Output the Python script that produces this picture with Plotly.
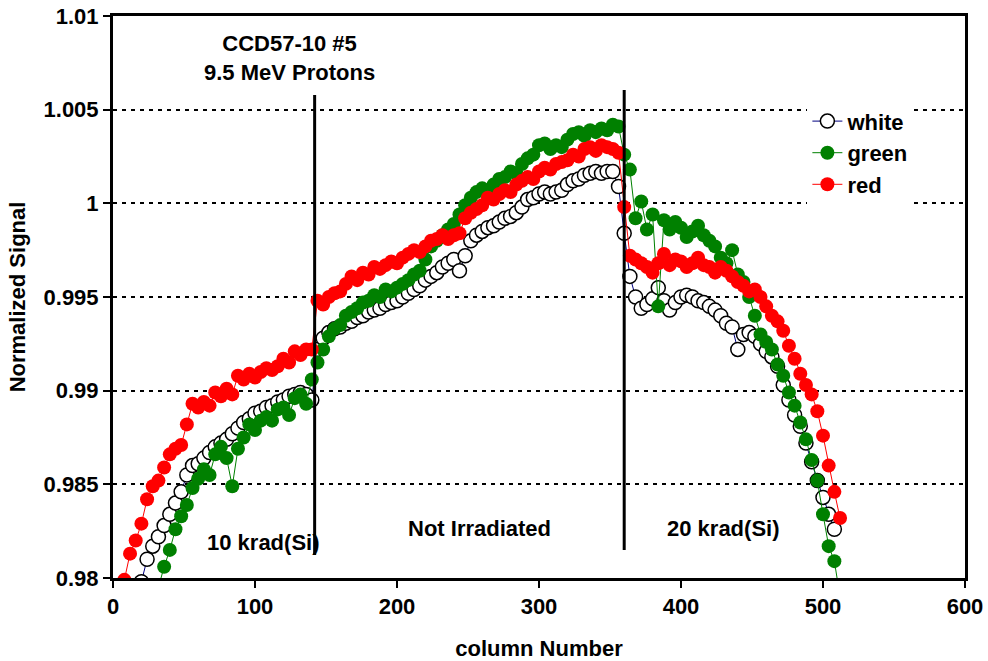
import plotly.graph_objects as go

columns = list(range(8, 513, 4))

white = [None, None, None,
         0.9798, 0.9810, 0.9817, 0.9822, 0.9828, 0.9834, 0.9840, 0.9846, 0.9855, 0.9860,
         0.9861, 0.9864, 0.9867, 0.9870, 0.9872, 0.9874, 0.9877, 0.9880, 0.9883, 0.9885,
         0.9888, 0.9889, 0.9891, 0.9892, 0.9894, 0.9895, 0.9897, 0.9898, 0.9899, 0.9898,
         0.9895, 0.9922, 0.9928, 0.9931, 0.9933, 0.9934, 0.9936, 0.9937, 0.9939, 0.9940,
         0.9942, 0.9943, 0.9944, 0.9946, 0.9947, 0.9948, 0.9950, 0.9952, 0.9954, 0.9956,
         0.9959, 0.9961, 0.9963, 0.9966, 0.9968, 0.9970, 0.9964, 0.9972, 0.9980, 0.9983,
         0.9985, 0.9987, 0.9988, 0.9990, 0.9992, 0.9993, 0.9995, 0.9998, 1.0002, 1.0003,
         1.0005, 1.0006, 1.0005, 1.0006, 1.0007, 1.0010, 1.0012, 1.0013, 1.0015, 1.0016,
         1.0017, 1.0016, 1.0017, 1.0017, 1.0009, 0.9984, 0.9961, 0.9950, 0.9944, 0.9946,
         0.9949, 0.9955, 0.9948, 0.9943, 0.9947, 0.9950, 0.9951, 0.9950, 0.9948, 0.9947,
         0.9945, 0.9943, 0.9940, 0.9936, 0.9934, 0.9922, 0.9930, 0.9931, 0.9929, 0.9925,
         0.9921, 0.9918, 0.9913, 0.9903, 0.9895, 0.9887, 0.9881, 0.9872, 0.9862, 0.9852,
         0.9843, 0.9834, 0.9826, None]

green = [None, None, None, None, None, None,
         0.9795, 0.9806, 0.9815, 0.9826, 0.9833, 0.9839, 0.9848, 0.9853, 0.9858, 0.9855,
         0.9866, 0.9870, 0.9864, 0.9849, 0.9869, 0.9875, 0.9882, 0.9879, 0.9884, 0.9886,
         0.9884, 0.9890, 0.9891, 0.9887, 0.9896, 0.9898, 0.9893, 0.9906, 0.9915, 0.9922,
         0.9929, 0.9933, 0.9935, 0.9940, 0.9942, 0.9944, 0.9947, 0.9948, 0.9951, 0.9950,
         0.9954, 0.9953, 0.9955, 0.9957, 0.9959, 0.9962, 0.9964, 0.9970, 0.9977, 0.9980,
         0.9983, 0.9986, 0.9989, 0.9994, 0.9999, 1.0003, 1.0006, 1.0008, 1.0007, 1.0010,
         1.0013, 1.0014, 1.0017, 1.0016, 1.0021, 1.0024, 1.0026, 1.0031, 1.0032, 1.0029,
         1.0031, 1.0030, 1.0034, 1.0037, 1.0038, 1.0036, 1.0039, 1.0038, 1.0040, 1.0039,
         1.0042, 1.0041, 1.0026, 1.0018, 0.9992, 1.0001, 0.9986, 0.9994, 0.9945, 0.9991,
         0.9986, 0.9990, 0.9987, 0.9982, 0.9985, 0.9988, 0.9983, 0.9980, 0.9977, 0.9971,
         0.9968, 0.9975, 0.9962, 0.9958, 0.9950, 0.9940, 0.9930, 0.9926, 0.9922, 0.9914,
         0.9908, 0.9899, 0.9892, 0.9883, 0.9874, 0.9863, 0.9852, 0.9834, 0.9817, 0.9809,
         0.9790]

red = [0.9799, 0.9813, 0.9820, 0.9829, 0.9842, 0.9849, 0.9852, 0.9859, 0.9866, 0.9869,
       0.9871, 0.9882, 0.9893, 0.9891, 0.9894, 0.9892, 0.9899, 0.9897, 0.9901, 0.9898,
       0.9908, 0.9906, 0.9909, 0.9907, 0.9910, 0.9912, 0.9911, 0.9913, 0.9917, 0.9915,
       0.9921, 0.9919, 0.9922, 0.9922, 0.9948, 0.9946, 0.9950, 0.9952, 0.9953, 0.9957,
       0.9961, 0.9959, 0.9963, 0.9962, 0.9966, 0.9965, 0.9967, 0.9969, 0.9968, 0.9971,
       0.9973, 0.9975, 0.9974, 0.9977, 0.9980, 0.9981, 0.9983, 0.9981, 0.9983, 0.9984,
       0.9992, 0.9995, 0.9997, 0.9999, 1.0003, 1.0002, 1.0005, 1.0007, 1.0006, 1.0010,
       1.0012, 1.0014, 1.0013, 1.0017, 1.0019, 1.0018, 1.0021, 1.0022, 1.0023, 1.0026,
       1.0025, 1.0029, 1.0030, 1.0028, 1.0031, 1.0030, 1.0029, 1.0027, 0.9998, 0.9972,
       0.9970, 0.9968, 0.9966, 0.9963, 0.9968, 0.9973, 0.9967, 0.9970, 0.9969, 0.9966,
       0.9968, 0.9971, 0.9967, 0.9966, 0.9963, 0.9966, 0.9964, 0.9961, 0.9958, 0.9956,
       0.9953, 0.9954, 0.9950, 0.9945, 0.9940, 0.9937, 0.9932, 0.9924, 0.9917, 0.9909,
       0.9903, 0.9898, 0.9889, 0.9876, 0.9860, 0.9846, 0.9832]

region_bounds = [142, 360]
region_labels = ["10 krad(Si)", "Not Irradiated", "20 krad(Si)"]
region_label_x = [106, 258, 430]
title_lines = ["CCD57-10 #5", "9.5 MeV Protons"]

FONT = "Liberation Sans, Arial, sans-serif"
FS = 22


def bfont(size=FS):
    return dict(family=FONT, size=size, color="black", weight="bold")


fig = go.Figure()
fig.add_trace(go.Scatter(
    x=columns, y=white, name="white", mode="lines+markers",
    line=dict(color="#000080", width=1),
    marker=dict(symbol="circle", size=14, color="white", line=dict(color="black", width=1.5)),
))
fig.add_trace(go.Scatter(
    x=columns, y=green, name="green", mode="lines+markers",
    line=dict(color="#008000", width=1),
    marker=dict(symbol="circle", size=14, color="#008000"),
))
fig.add_trace(go.Scatter(
    x=columns, y=red, name="red", mode="lines+markers",
    line=dict(color="#FF0000", width=1),
    marker=dict(symbol="circle", size=14, color="#FF0000"),
))

# vertical region separators
fig.add_shape(type="line", x0=region_bounds[0], x1=region_bounds[0], y0=0.98123, y1=1.00578,
              line=dict(color="black", width=3))
fig.add_shape(type="line", x0=region_bounds[1], x1=region_bounds[1], y0=0.98149, y1=1.00605,
              line=dict(color="black", width=3))

fig.add_annotation(x=124, y=1.00776, text="<br>".join(title_lines), showarrow=False,
                   font=bfont(), xanchor="center", yanchor="middle")
label_y = [0.98187, 0.98262, 0.98262]
for lx, ly, txt in zip(region_label_x, label_y, region_labels):
    fig.add_annotation(x=lx, y=ly, text=txt, showarrow=False, font=bfont(),
                       xanchor="center", yanchor="middle")

fig.update_layout(
    width=988, height=661,
    margin=dict(l=113, r=23, t=16, b=83),
    paper_bgcolor="white", plot_bgcolor="white",
    font=bfont(),
    showlegend=True,
    legend=dict(x=0.815, y=0.85, xanchor="left", yanchor="top", bgcolor="white",
                font=bfont(), tracegroupgap=0, itemwidth=30),
    xaxis=dict(range=[0, 600], dtick=100, tick0=0, showgrid=False, zeroline=False,
               showline=True, linecolor="black", linewidth=3, mirror=True,
               ticks="outside", ticklen=7, tickwidth=2, tickcolor="black",
               tickfont=bfont(), automargin=False,
               title=dict(text="column Number", standoff=24, font=bfont())),
    yaxis=dict(range=[0.98, 1.01], dtick=0.005, tick0=0.98, showgrid=True,
               gridcolor="black", gridwidth=2, griddash="4px,5px", zeroline=False,
               showline=True, linecolor="black", linewidth=3, mirror=True,
               ticks="outside", ticklen=7, tickwidth=2, tickcolor="black",
               tickformat="~g", tickfont=bfont(), automargin=False,
               title=dict(text="Normalized Signal", standoff=12, font=bfont())),
)

fig.write_html("out.html")
